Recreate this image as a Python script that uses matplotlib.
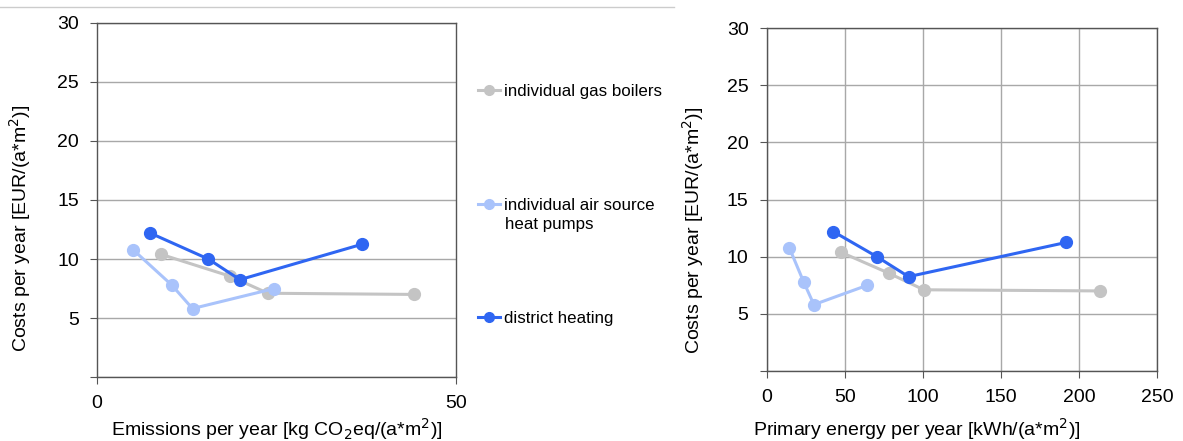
import matplotlib
matplotlib.use('Agg')
import matplotlib.pyplot as plt
from matplotlib.lines import Line2D

plt.rcParams['font.family'] = ['Liberation Sans', 'DejaVu Sans']

# Series labels
series_names = ['individual gas boilers', 'individual air source\nheat pumps', 'district heating']
series_colors = ['#c4c4c4', '#a9c3fb', '#2f66f2']

# Left chart: emissions vs costs
gas_emis = [8.9, 18.5, 23.8, 44.1]
gas_cost = [10.4, 8.55, 7.1, 7.0]
hp_emis = [5.0, 10.4, 13.3, 24.7]
hp_cost = [10.8, 7.8, 5.8, 7.5]
dh_emis = [7.4, 15.5, 19.9, 36.9]
dh_cost = [12.2, 10.0, 8.25, 11.25]

# Right chart: primary energy vs costs
gas_pe = [47.4, 78.3, 100.7, 213.3]
hp_pe = [14.5, 23.7, 30.3, 64.6]
dh_pe = [42.7, 70.6, 90.9, 192.0]

y_ticks = [5, 10, 15, 20, 25, 30]
x_ticks_left = [0, 50]
x_ticks_right = [0, 50, 100, 150, 200, 250]

ylabel = 'Costs per year [EUR/(a*m$^2$)]'
fs = 14
grid_col = '#a8a8a8'
spine_col = '#555555'


def style_axes(ax, xticks, xmax, vgrid):
    ax.set_xlim(0, xmax)
    ax.set_ylim(0, 30)
    ax.set_yticks([0] + y_ticks)
    ax.set_yticklabels([''] + [str(t) for t in y_ticks])
    ax.set_xticks(xticks)
    ax.tick_params(labelsize=fs, colors=spine_col, labelcolor='black', length=5, width=0.8)
    ax.tick_params(axis='y', pad=8)
    ax.tick_params(axis='x', pad=8)
    for s in ax.spines.values():
        s.set_color(spine_col)
        s.set_linewidth(1.0)
    ax.yaxis.grid(True, color=grid_col, linewidth=1.0)
    if vgrid:
        ax.xaxis.grid(True, color=grid_col, linewidth=1.0)
    ax.set_axisbelow(True)
    ax.set_ylabel(ylabel, fontsize=fs)


def draw_series(ax, xs_list, ys_list):
    for xs, ys, c in zip(xs_list, ys_list, series_colors):
        ax.plot(xs, ys, color=c, linewidth=2.2, marker='o', markersize=8.5)


fig = plt.figure(figsize=(11.83, 4.41), dpi=100)

ax1 = fig.add_axes([0.082, 0.145, 0.3035, 0.803])
draw_series(ax1, [gas_emis, hp_emis, dh_emis], [gas_cost, hp_cost, dh_cost])
style_axes(ax1, x_ticks_left, 50, False)
ax1.yaxis.set_label_coords(-0.178, 0.42)
ax1.set_xlabel('Emissions per year [kg CO$_2$eq/(a*m$^2$)]', fontsize=fs)
ax1.xaxis.set_label_coords(0.5, -0.111)

ax2 = fig.add_axes([0.648, 0.159, 0.330, 0.777])
draw_series(ax2, [gas_pe, hp_pe, dh_pe], [gas_cost, hp_cost, dh_cost])
style_axes(ax2, x_ticks_right, 250, True)
ax2.yaxis.set_label_coords(-0.156, 0.41)
ax2.set_xlabel('Primary energy per year [kWh/(a*m$^2$)]', fontsize=fs)
ax2.xaxis.set_label_coords(0.385, -0.132)

# Legend entries, one per series
leg_fs = 12.2
legend_y = [0.792, 0.535, 0.278]
for name, c, ly in zip(series_names, series_colors, legend_y):
    first, *rest = name.split('\n')
    h = Line2D([], [], color=c, linewidth=2.2, marker='o', markersize=7)
    fig.legend([h], [first], loc='center left', bbox_to_anchor=(0.404, ly),
               frameon=False, fontsize=leg_fs, handlelength=1.3,
               handletextpad=0.25, borderpad=0, borderaxespad=0)
    if rest:
        fig.text(0.427, ly - 0.045, rest[0], fontsize=leg_fs, va='center')

# thin rule at the top
fig.add_artist(Line2D([0, 0.57], [0.984, 0.984], color='#cccccc', linewidth=1.0))

fig.savefig('out.png', dpi=100)
